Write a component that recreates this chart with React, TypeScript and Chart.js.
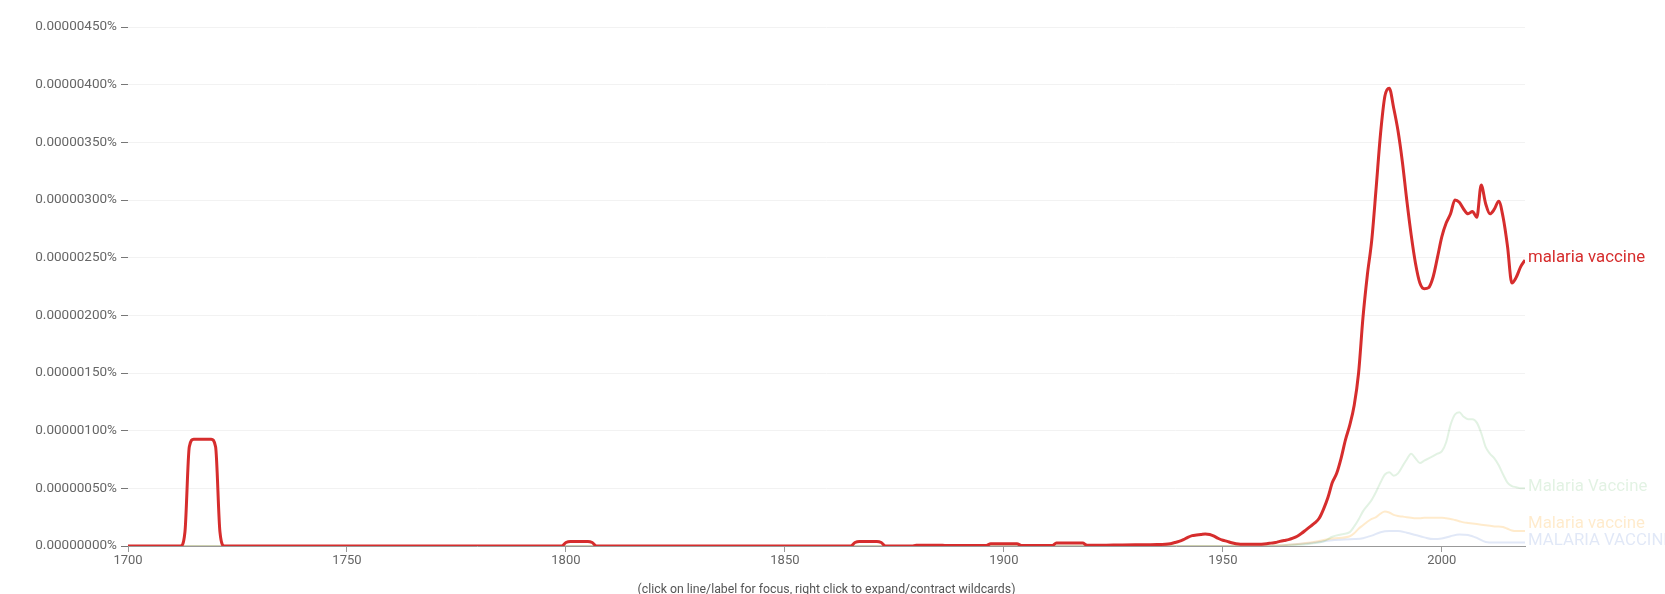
import React, { useEffect, useRef } from "react";
import { Chart, registerables } from "chart.js";
Chart.register(...registerables);

// Values are in millionths of a percent (1 = 0.00000100%)
const redYears = [1700, 1712, 1713, 1714, 1715, 1719, 1720, 1721, 1722, 1799, 1800, 1801, 1805, 1806, 1807, 1865, 1866, 1867, 1871, 1872, 1873, 1879, 1880, 1886, 1887, 1895, 1896, 1897, 1903, 1904, 1911, 1912, 1918, 1919, 1925, 1930, 1935, 1938, 1939, 1940, 1941, 1942, 1943, 1944, 1945, 1946, 1947, 1948, 1949, 1950, 1951, 1952, 1953, 1954, 1958, 1960, 1961, 1962, 1963, 1964, 1965, 1966, 1967, 1968, 1969, 1970, 1971, 1972, 1973, 1974, 1975, 1976, 1977, 1978, 1979, 1980, 1981, 1982, 1983, 1984, 1985, 1986, 1987, 1988, 1989, 1990, 1991, 1992, 1993, 1994, 1995, 1996, 1997, 1998, 1999, 2000, 2001, 2002, 2003, 2004, 2005, 2006, 2007, 2008, 2009, 2010, 2011, 2012, 2013, 2014, 2015, 2016, 2017, 2018, 2019];
const redValues = [0, 0, 0.12, 0.86, 0.925, 0.925, 0.86, 0.12, 0, 0, 0.03, 0.04, 0.04, 0.03, 0, 0, 0.03, 0.04, 0.04, 0.03, 0, 0, 0.006, 0.006, 0.004, 0.004, 0.004, 0.02, 0.02, 0.004, 0.004, 0.025, 0.025, 0.006, 0.008, 0.01, 0.012, 0.02, 0.03, 0.04, 0.055, 0.075, 0.09, 0.095, 0.1, 0.105, 0.1, 0.085, 0.065, 0.05, 0.04, 0.028, 0.02, 0.016, 0.015, 0.02, 0.025, 0.03, 0.04, 0.048, 0.055, 0.068, 0.085, 0.11, 0.14, 0.17, 0.2, 0.24, 0.32, 0.42, 0.55, 0.63, 0.76, 0.92, 1.05, 1.22, 1.5, 1.98, 2.35, 2.65, 3.1, 3.57, 3.9, 3.97, 3.8, 3.6, 3.33, 3.0, 2.7, 2.45, 2.28, 2.23, 2.24, 2.33, 2.5, 2.68, 2.8, 2.88, 3.0, 2.98, 2.92, 2.88, 2.9, 2.85, 3.13, 2.97, 2.88, 2.92, 2.99, 2.85, 2.6, 2.28, 2.33, 2.42, 2.48];

const greenYears = [1700, 1960, 1965, 1970, 1973, 1975, 1977, 1979, 1980, 1981, 1982, 1983, 1984, 1985, 1986, 1987, 1988, 1989, 1990, 1991, 1992, 1993, 1994, 1995, 1996, 1997, 1998, 1999, 2000, 2001, 2002, 2003, 2004, 2005, 2006, 2007, 2008, 2009, 2010, 2011, 2012, 2013, 2014, 2015, 2016, 2017, 2018, 2019];
const greenValues = [0, 0, 0.005, 0.02, 0.04, 0.08, 0.1, 0.12, 0.17, 0.23, 0.3, 0.35, 0.4, 0.47, 0.55, 0.62, 0.64, 0.61, 0.63, 0.69, 0.75, 0.8, 0.76, 0.72, 0.74, 0.76, 0.78, 0.8, 0.82, 0.9, 1.05, 1.14, 1.16, 1.12, 1.1, 1.1, 1.07, 0.98, 0.86, 0.8, 0.76, 0.7, 0.62, 0.55, 0.52, 0.51, 0.5, 0.5];

const orangeYears = [1700, 1960, 1965, 1970, 1975, 1979, 1980, 1981, 1982, 1983, 1984, 1985, 1986, 1987, 1988, 1989, 1990, 1991, 1992, 1993, 1994, 1995, 1996, 1997, 1998, 1999, 2000, 2001, 2002, 2003, 2004, 2005, 2006, 2007, 2008, 2009, 2010, 2011, 2012, 2013, 2014, 2015, 2016, 2017, 2018, 2019];
const orangeValues = [0, 0, 0.01, 0.03, 0.065, 0.085, 0.11, 0.15, 0.18, 0.21, 0.235, 0.25, 0.28, 0.3, 0.29, 0.27, 0.26, 0.255, 0.25, 0.245, 0.24, 0.24, 0.245, 0.245, 0.245, 0.245, 0.245, 0.24, 0.235, 0.225, 0.215, 0.205, 0.2, 0.195, 0.19, 0.185, 0.18, 0.175, 0.17, 0.17, 0.165, 0.15, 0.135, 0.13, 0.13, 0.13];

const blueYears = [1700, 1960, 1965, 1970, 1975, 1980, 1982, 1984, 1986, 1988, 1990, 1992, 1994, 1996, 1998, 2000, 2002, 2004, 2006, 2008, 2010, 2012, 2015, 2019];
const blueValues = [0, 0, 0.01, 0.025, 0.05, 0.06, 0.068, 0.09, 0.12, 0.13, 0.13, 0.115, 0.095, 0.075, 0.06, 0.065, 0.085, 0.1, 0.095, 0.07, 0.035, 0.03, 0.03, 0.03];

const seriesNames = ["malaria vaccine", "Malaria Vaccine", "Malaria vaccine", "MALARIA VACCINE"];
const lineColors = ["#d62d2d", "rgba(16,150,24,0.12)", "rgba(255,153,0,0.2)", "rgba(51,102,204,0.15)"];
const lineWidths = [3, 2, 2, 2];

const xTicks = [1700, 1750, 1800, 1850, 1900, 1950, 2000];
const yTicks = [0, 0.5, 1, 1.5, 2, 2.5, 3, 3.5, 4, 4.5];
const yTickLabels = ["0.00000000%", "0.00000050%", "0.00000100%", "0.00000150%", "0.00000200%", "0.00000250%", "0.00000300%", "0.00000350%", "0.00000400%", "0.00000450%"];
const caption = "(click on line/label for focus, right click to expand/contract wildcards)";

const endLabels = {
  id: "endLabels",
  afterDatasetsDraw(chart: any) {
    const ctx = chart.ctx;
    const area = chart.chartArea;
    const items = chart.data.datasets.map((ds: any, i: number) => {
      const meta = chart.getDatasetMeta(i);
      const pt = meta.data[meta.data.length - 1];
      return { y: pt.y - 2, text: seriesNames[i], color: lineColors[i] };
    });
    const sorted = [...items].sort((a: any, b: any) => b.y - a.y);
    let prev = Infinity;
    for (const it of sorted) {
      if (it.y > prev - 16.5) it.y = prev - 16.5;
      prev = it.y;
    }
    ctx.save();
    ctx.font = "16.8px Roboto";
    ctx.textAlign = "left";
    ctx.textBaseline = "middle";
    for (let i = items.length - 1; i >= 0; i--) {
      const it = items[i];
      ctx.fillStyle = it.color;
      ctx.fillText(it.text, area.right + 3, it.y);
    }
    ctx.font = "12.3px Roboto";
    ctx.fillStyle = "#555";
    ctx.textAlign = "center";
    ctx.fillText(caption, (area.left + area.right) / 2, 590);
    ctx.restore();
  },
};

function toPoints(xs: number[], ys: number[]) {
  return xs.map((x, i) => ({ x, y: ys[i] }));
}

export default function App() {
  const ref = useRef<HTMLCanvasElement>(null);
  useEffect(() => {
    if (!ref.current) return;
    const seriesData = [
      toPoints(redYears, redValues),
      toPoints(greenYears, greenValues),
      toPoints(orangeYears, orangeValues),
      toPoints(blueYears, blueValues),
    ];
    const chart = new Chart(ref.current, {
      type: "line",
      data: {
        datasets: seriesData.map((d, i) => ({
          label: seriesNames[i],
          data: d,
          borderColor: lineColors[i],
          borderWidth: lineWidths[i],
          pointRadius: 0,
          pointHoverRadius: 0,
          cubicInterpolationMode: "monotone" as const,
          fill: false,
        })),
      },
      options: {
        animation: false,
        responsive: false,
        devicePixelRatio: 1,
        layout: { padding: { left: 0, right: 140, top: 27, bottom: 0 } },
        plugins: { legend: { display: false }, tooltip: { enabled: false } },
        scales: {
          x: {
            type: "linear",
            min: 1700,
            max: 2019,
            afterBuildTicks: (s: any) => {
              s.ticks = xTicks.map((v) => ({ value: v }));
            },
            afterFit: (s: any) => {
              s.height = 48;
            },
            grid: { drawOnChartArea: false, drawTicks: true, tickLength: 6, tickColor: "#999" },
            border: { display: true, color: "#999", width: 1 },
            ticks: {
              padding: 1,
              color: "#666",
              font: { family: "Roboto", size: 13 },
              maxRotation: 0,
              callback: (v: any) => String(v),
            },
          },
          y: {
            type: "linear",
            min: 0,
            max: 4.5,
            afterBuildTicks: (s: any) => {
              s.ticks = yTicks.map((v) => ({ value: v }));
            },
            afterFit: (s: any) => {
              s.width = 128;
            },
            grid: { color: "#f2f2f2", drawTicks: true, tickLength: 7, tickColor: "#777" },
            border: { display: false },
            ticks: {
              padding: 4,
              color: "#666",
              font: { family: "Roboto", size: 13.5 },
              callback: (v: any) => {
                const i = yTicks.indexOf(v);
                return i >= 0 ? yTickLabels[i] : "";
              },
            },
          },
        },
      },
      plugins: [endLabels],
    });
    return () => chart.destroy();
  }, []);
  return (
    <div style={{ position: "absolute", left: 0, top: 0, width: 1665, height: 594, background: "#fff" }}>
      <canvas ref={ref} width={1665} height={594} style={{ display: "block" }} />
    </div>
  );
}
